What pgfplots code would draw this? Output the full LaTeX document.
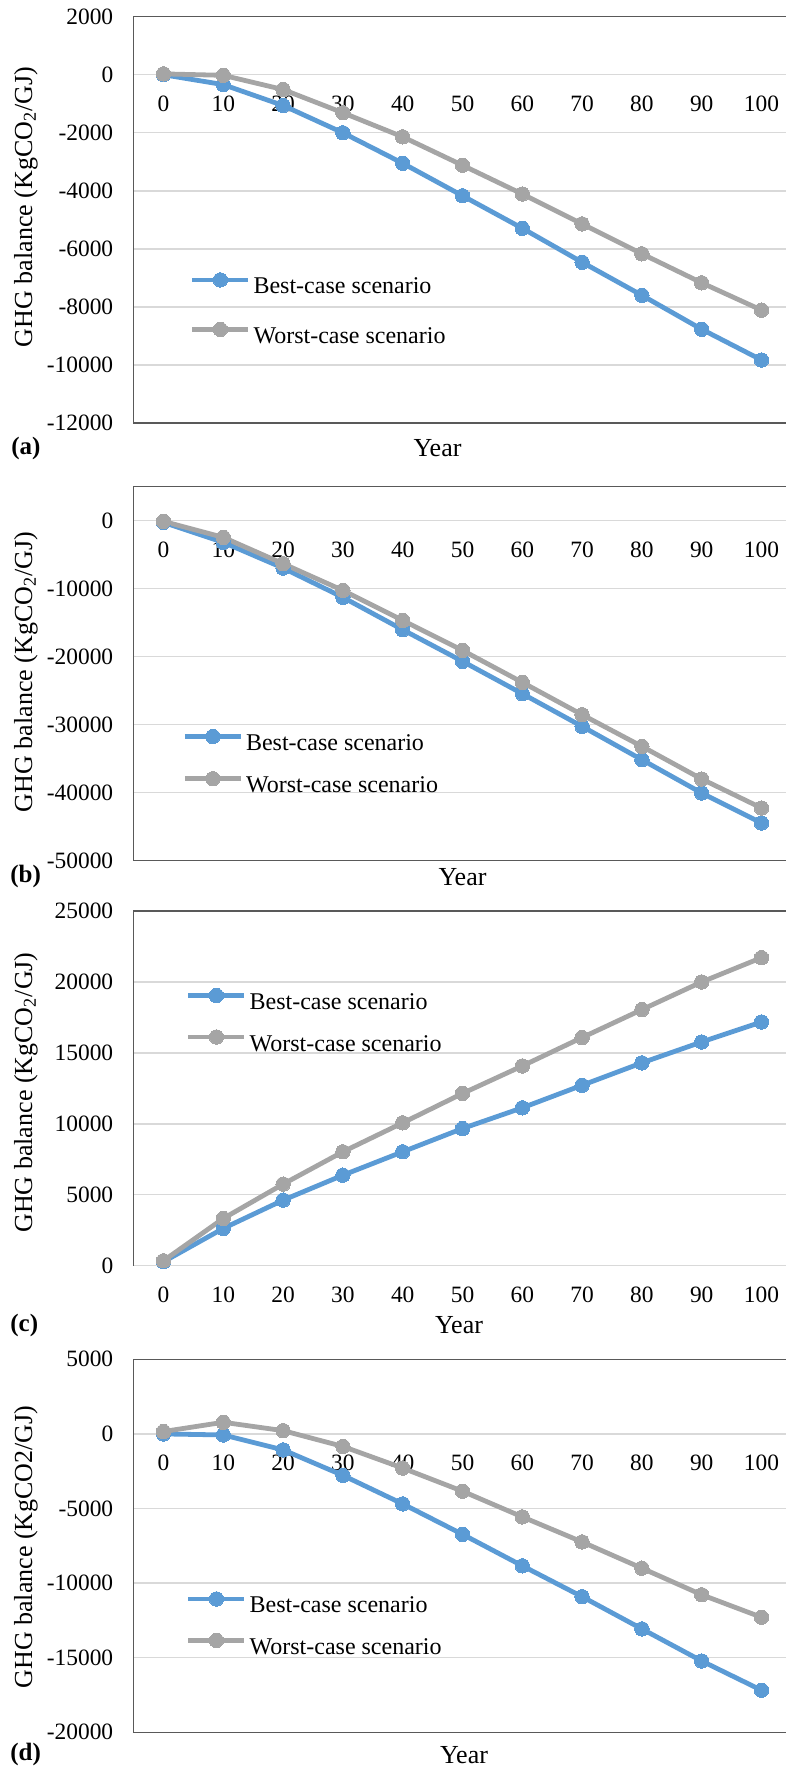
\documentclass[border=0pt]{standalone}
\usepackage{fontspec}
\setmainfont{Liberation Serif}
\usepackage{pgfplots}
\pgfplotsset{compat=1.18}
\definecolor{bestc}{HTML}{5B9BD5}
\definecolor{worstc}{HTML}{A5A5A5}
\definecolor{gridc}{HTML}{D9D9D9}
\definecolor{axc}{HTML}{595959}
\pgfplotsset{
  panel/.style={
    scale only axis, width=328.9pt, anchor=north west,
    xmin=-5, xmax=105, xtick={0,10,...,100},
    axis line style={draw=none},
    major tick length=0pt, tick style={draw=none},
    ymajorgrids, major grid style={color=gridc, line width=0.7pt},
    scaled y ticks=false, scaled x ticks=false,
    /pgf/number format/assume math mode=true,
    /pgf/number format/1000 sep={},
    ticklabel style={font=\fontsize{11.7}{14}\selectfont},
    yticklabel style={anchor=east, inner sep=0pt, xshift=-10pt},
    clip=false,
    legend image code/.code={\draw[mark repeat=2,mark phase=2,##1] plot coordinates {(0pt,4pt) (14pt,4pt) (28pt,4pt)};},
    legend style={draw=none, fill=none, inner sep=0pt, outer sep=0pt,
      font=\fontsize{12}{14}\selectfont, anchor=north west, column sep=1.4pt,
      nodes={inner sep=0pt, text height=9pt, text depth=3pt}},
    legend cell align=left,
    ylabel style={anchor=center, font=\fontsize{13}{15}\selectfont},
    xlabel style={anchor=center, font=\fontsize{13}{15}\selectfont},
    xlabel={Year},
  },
  best/.style={color=bestc, line width=2.4pt, mark=*, mark size=3.6pt,
    mark options={solid, fill=bestc, draw=bestc, line width=0pt}},
  worst/.style={color=worstc, line width=2.4pt, mark=*, mark size=3.6pt,
    mark options={solid, fill=worstc, draw=worstc, line width=0pt}},
}
\begin{document}
\begin{tikzpicture}
\useasboundingbox (0,0) rectangle (393pt,-884.5pt);
% ---------- (a)
\begin{axis}[panel, at={(66.8pt,-8.35pt)}, height=203.15pt,
  ymin=-12000, ymax=2000, ytick={-12000,-10000,...,2000},
  xticklabel style={anchor=north, inner sep=0pt, yshift=163.9pt},
  ylabel={GHG balance (KgCO\textsubscript{2}/GJ)},
  ylabel style={at={(axis description cs:-0.1636,0.5316)}},
  xlabel style={at={(axis description cs:0.462,-0.0615)}},
  legend style={at={(axis description cs:0.0857,0.3699)}, row sep=11.15pt}]
\addplot[best] coordinates {(0,0) (10,-340) (20,-1060) (30,-2000) (40,-3050) (50,-4170) (60,-5290) (70,-6460) (80,-7600) (90,-8770) (100,-9830)};
\addplot[worst] coordinates {(0,30) (10,-20) (20,-510) (30,-1310) (40,-2140) (50,-3120) (60,-4110) (70,-5140) (80,-6170) (90,-7170) (100,-8110)};
\legend{Best-case scenario, Worst-case scenario}
\draw[axc, line width=0.7pt] (rel axis cs:1.05,1) -- (rel axis cs:0,1) -- (rel axis cs:0,0) -- (rel axis cs:1.05,0);
\end{axis}
% ---------- (b)
\begin{axis}[panel, at={(66.8pt,-243.35pt)}, height=187pt,
  ymin=-50000, ymax=5000, ytick={-50000,-40000,...,0},
  xticklabel style={anchor=north, inner sep=0pt, yshift=159.75pt},
  ylabel={GHG balance (KgCO\textsubscript{2}/GJ)},
  ylabel style={at={(axis description cs:-0.1636,0.5045)}},
  xlabel style={at={(axis description cs:0.5,-0.0428)}},
  legend style={at={(axis description cs:0.0743,0.3513)}, row sep=7.5pt}]
\addplot[best] coordinates {(0,-250) (10,-3180) (20,-6960) (30,-11270) (40,-16030) (50,-20680) (60,-25440) (70,-30250) (80,-35150) (90,-40050) (100,-44460)};
\addplot[worst] coordinates {(0,-100) (10,-2450) (20,-6320) (30,-10250) (40,-14660) (50,-19070) (60,-23770) (70,-28530) (80,-33190) (90,-37990) (100,-42250)};
\legend{Best-case scenario, Worst-case scenario}
\draw[axc, line width=0.7pt] (rel axis cs:1.05,1) -- (rel axis cs:0,1) -- (rel axis cs:0,0) -- (rel axis cs:1.05,0);
\end{axis}
% ---------- (c)
\begin{axis}[panel, at={(66.8pt,-455.5pt)}, height=177.35pt,
  ymin=0, ymax=25000, ytick={0,5000,...,25000},
  xticklabel style={anchor=north, inner sep=0pt, yshift=-10.25pt},
  ylabel={GHG balance (KgCO\textsubscript{2}/GJ)},
  ylabel style={at={(axis description cs:-0.1636,0.4883)}},
  xlabel style={at={(axis description cs:0.4947,-0.1672)}},
  legend style={at={(axis description cs:0.0797,0.7821)}, row sep=7.15pt}]
\addplot[best] coordinates {(0,280) (10,2630) (20,4620) (30,6380) (40,8030) (50,9670) (60,11130) (70,12720) (80,14300) (90,15770) (100,17180)};
\addplot[worst] coordinates {(0,350) (10,3330) (20,5750) (30,8030) (40,10070) (50,12140) (60,14080) (70,16080) (80,18050) (90,20000) (100,21710)};
\legend{Best-case scenario, Worst-case scenario}
\draw[axc, line width=0.7pt] (rel axis cs:1.05,1) -- (rel axis cs:0,1) -- (rel axis cs:0,0);
\end{axis}
% ---------- (d)
\begin{axis}[panel, at={(66.8pt,-679.65pt)}, height=186.5pt,
  ymin=-20000, ymax=5000, ytick={-20000,-15000,...,5000},
  xticklabel style={anchor=north, inner sep=0pt, yshift=138.95pt},
  ylabel={GHG balance (KgCO2/GJ)},
  ylabel style={at={(axis description cs:-0.1636,0.4968)}},
  xlabel style={at={(axis description cs:0.5023,-0.0609)}},
  legend style={at={(axis description cs:0.0797,0.3769)}, row sep=7.15pt}]
\addplot[best] coordinates {(0,0) (10,-70) (20,-1070) (30,-2780) (40,-4690) (50,-6730) (60,-8840) (70,-10910) (80,-13070) (90,-15220) (100,-17180)};
\addplot[worst] coordinates {(0,160) (10,780) (20,220) (30,-840) (40,-2290) (50,-3840) (60,-5560) (70,-7240) (80,-9000) (90,-10780) (100,-12290)};
\legend{Best-case scenario, Worst-case scenario}
\draw[axc, line width=0.7pt] (rel axis cs:1.05,1) -- (rel axis cs:0,1) -- (rel axis cs:0,0) -- (rel axis cs:1.05,0);
\end{axis}
% panel letters
\begin{scope}[every node/.style={anchor=west, inner sep=0pt, font=\bfseries\fontsize{12.5}{15}\selectfont}]
\node at (5.5pt,-224pt) {(a)};
\node at (5pt,-438.35pt) {(b)};
\node at (5pt,-662.5pt) {(c)};
\node at (5pt,-877pt) {(d)};
\end{scope}
\end{tikzpicture}
\end{document}
